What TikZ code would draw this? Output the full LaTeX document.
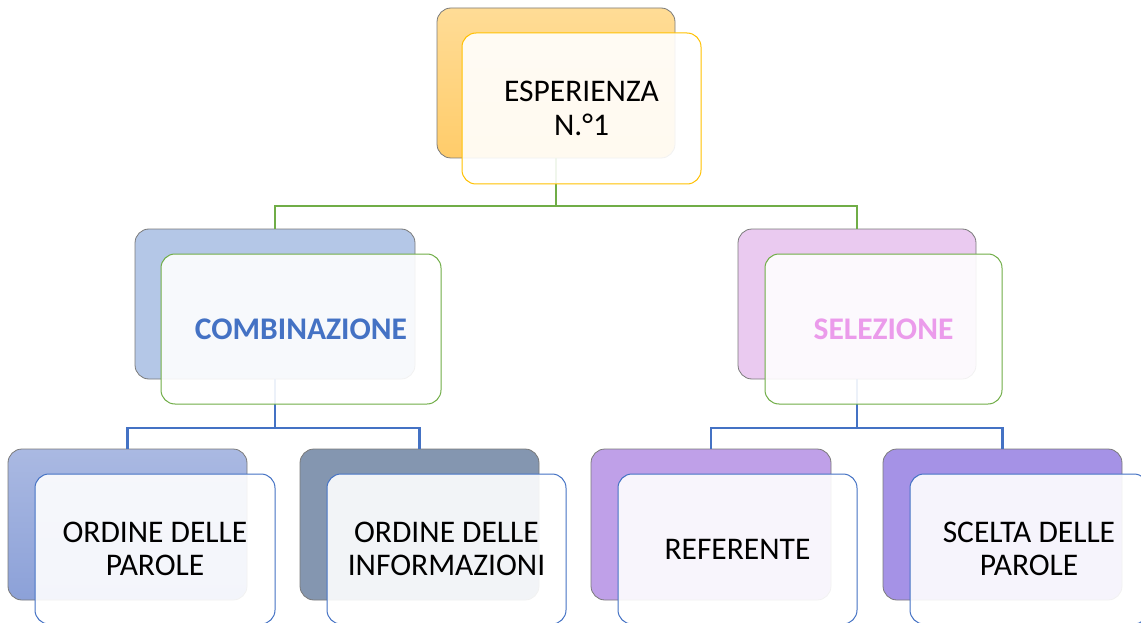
\documentclass[tikz,border=0pt]{standalone}
\usepackage{fontspec}
\setmainfont{Carlito}
\definecolor{gline}{HTML}{70AD47}
\definecolor{bline}{HTML}{4472C4}
\definecolor{orT}{HTML}{FFDC96}
\definecolor{orB}{HTML}{FFCC6A}
\definecolor{bl2}{HTML}{B4C7E7}
\definecolor{pk2}{HTML}{EACAF0}
\definecolor{c1T}{HTML}{AAB9E2}
\definecolor{c1B}{HTML}{8CA1D8}
\definecolor{c2}{HTML}{8496B0}
\definecolor{c3}{HTML}{BFA0E8}
\definecolor{c4}{HTML}{A592E6}
\definecolor{pinkt}{HTML}{EB9BEB}
\definecolor{yel}{HTML}{FFC000}
\definecolor{bord}{HTML}{7A7A7A}
\begin{document}
\begin{tikzpicture}[x=1pt,y=-1pt,
  backbox/.style={draw=bord, line width=0.8pt, rounded corners=14pt, inner sep=0pt},
  frontbox/.style={line width=1pt, fill=white, fill opacity=0.9, text opacity=1,
    rounded corners=14pt, inner sep=0pt, align=center,
    font=\fontsize{31.5}{33.5}\selectfont},
  gconn/.style={draw=gline, line width=2pt},
  bconn/.style={draw=bline, line width=2.5pt}]
\clip (0,0) rectangle (1141,623);
% back boxes
\node[backbox, top color=orT, bottom color=orB, minimum width=238pt, minimum height=150pt] (topB) at (556,83) {};
\node[backbox, fill=bl2, minimum width=280pt, minimum height=150pt] (combB) at (275,304) {};
\node[backbox, fill=pk2, minimum width=238pt, minimum height=150pt] (selB) at (857,304) {};
\node[backbox, top color=c1T, bottom color=c1B, minimum width=239pt, minimum height=151pt] (opB) at (127.5,524.5) {};
\node[backbox, fill=c2, minimum width=239pt, minimum height=151pt] (oiB) at (419.5,524.5) {};
\node[backbox, fill=c3, minimum width=240pt, minimum height=151pt] (refB) at (711,524.5) {};
\node[backbox, fill=c4, minimum width=239pt, minimum height=151pt] (scB) at (1002.5,524.5) {};
% connectors
\coordinate (j1) at (556,206);
\coordinate (j2) at (275,428);
\coordinate (j3) at (857,428);
\draw[gconn] (topB.south) -- (j1);
\draw[gconn] (j1) -| (combB.north);
\draw[gconn] (j1) -| (selB.north);
\draw[bconn] (combB.south) -- (j2);
\draw[bconn] (j2) -| (opB.north);
\draw[bconn] (j2) -| (oiB.north);
\draw[bconn] (selB.south) -- (j3);
\draw[bconn] (j3) -| (refB.north);
\draw[bconn] (j3) -| (scB.north);
% front boxes
\node[frontbox, draw=yel, minimum width=239pt, minimum height=151pt] (topF) at (581.5,108.5) {ESPERIENZA\\N.°1};
\node[frontbox, draw=gline, minimum width=280pt, minimum height=150pt, text=bline] (combF) at (301,329) {\bfseries COMBINAZIONE};
\node[frontbox, draw=gline, minimum width=237pt, minimum height=150pt, text=pinkt] (selF) at (883.5,329) {\bfseries SELEZIONE};
\node[frontbox, draw=bline, minimum width=240pt, minimum height=150pt] (opF) at (155,549) {ORDINE DELLE\\PAROLE};
\node[frontbox, draw=bline, minimum width=239pt, minimum height=150pt] (oiF) at (446.5,549) {ORDINE DELLE\\INFORMAZIONI};
\node[frontbox, draw=bline, minimum width=239pt, minimum height=150pt] (refF) at (737.5,549) {REFERENTE};
\node[frontbox, draw=bline, minimum width=238pt, minimum height=150pt] (scF) at (1029,549) {SCELTA DELLE\\PAROLE};
\end{tikzpicture}
\end{document}
